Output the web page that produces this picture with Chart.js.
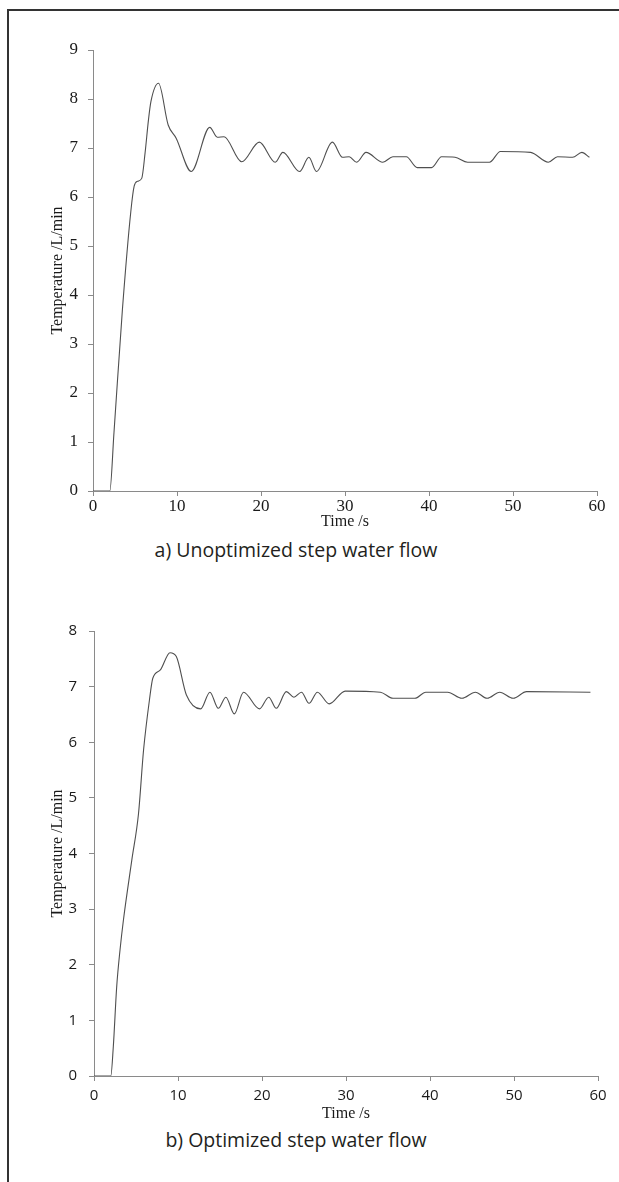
<!DOCTYPE html>
<html>
<head>
<meta charset="utf-8">
<script src="https://cdn.jsdelivr.net/npm/chart.js@4"></script>
<style>
  html,body{margin:0;padding:0;background:#fff;}
  body{width:619px;height:1182px;position:relative;overflow:hidden;}
  #frame{position:absolute;left:7px;top:9px;width:640px;height:1200px;border-left:2px solid #333;border-top:2px solid #333;}
  .cv{position:absolute;left:0;}
  .cap{position:absolute;left:0;width:592px;text-align:center;font-family:"Open Sans",sans-serif;font-size:19.5px;color:#231f20;}
</style>
</head>
<body>
<div id="frame"></div>
<div class="cv" style="top:0;width:619px;height:535px;"><canvas id="c1"></canvas></div>
<div class="cv" style="top:580px;width:619px;height:545px;"><canvas id="c2"></canvas></div>
<div class="cap" style="top:536px;">a) Unoptimized step water flow</div>
<div class="cap" style="top:1126px;">b) Optimized step water flow</div>
<script>
// ---- data ----
const xTicksA = [0, 10, 20, 30, 40, 50, 60];
const yTicksA = [0, 1, 2, 3, 4, 5, 6, 7, 8, 9];
const timeA = [0, 1, 2, 2.5, 3.5, 4.5, 4.9, 5.3, 5.8, 6.2, 6.6, 6.9, 7.8, 8.95, 9.9, 11.7, 13.9, 14.8, 15.6, 17.7, 19.8, 21.7, 22.6, 24.6, 25.7, 26.6, 28.5, 29.7, 30.5, 31.4, 32.5, 34.5, 35.7, 37.3, 38.6, 40.3, 41.5, 43.1, 44.6, 47.2, 48.5, 52.1, 54.2, 55.3, 57.1, 58.2, 59.1];
const flowA = [0, 0, 0, 1.2, 3.7, 5.7, 6.22, 6.32, 6.38, 6.9, 7.57, 7.95, 8.32, 7.47, 7.2, 6.52, 7.42, 7.22, 7.23, 6.72, 7.12, 6.71, 6.91, 6.52, 6.81, 6.52, 7.12, 6.81, 6.82, 6.71, 6.91, 6.71, 6.82, 6.82, 6.6, 6.6, 6.82, 6.81, 6.71, 6.71, 6.93, 6.91, 6.71, 6.82, 6.81, 6.91, 6.81];

const xTicksB = [0, 10, 20, 30, 40, 50, 60];
const yTicksB = [0, 1, 2, 3, 4, 5, 6, 7, 8];
const timeB = [0, 1, 2, 2.3, 2.7, 3.1, 3.5, 4.5, 5.3, 5.9, 6.6, 7.0, 7.9, 9.05, 9.8, 11.0, 12.7, 13.8, 14.8, 15.7, 16.7, 17.8, 19.7, 20.8, 21.7, 22.9, 23.8, 24.7, 25.6, 26.6, 28.0, 29.9, 34.1, 35.6, 38.2, 39.5, 42.1, 43.8, 45.4, 46.8, 48.3, 49.9, 51.5, 59.1];
const flowB = [0, 0, 0, 0.53, 1.6, 2.27, 2.8, 3.88, 4.72, 5.86, 6.76, 7.15, 7.3, 7.61, 7.54, 6.85, 6.6, 6.9, 6.61, 6.81, 6.51, 6.9, 6.6, 6.81, 6.61, 6.91, 6.81, 6.9, 6.7, 6.9, 6.69, 6.92, 6.9, 6.79, 6.79, 6.9, 6.9, 6.79, 6.9, 6.79, 6.9, 6.79, 6.91, 6.9];

const xTitle = 'Time /s';
const yTitle = 'Temperature /L/min';

const AXIS = '#8a8a8a';
const INK = '#1a1a1a';
const LINE = '#4f4f4f';
const SERIF = "'Liberation Serif', 'Times New Roman', serif";
const SANS = "'Open Sans', sans-serif";

function makeChart(id, times, flows, xT, yT, cfg) {
  const pts = times.map((t, i) => ({x: t, y: flows[i]}));
  return new Chart(document.getElementById(id), {
    type: 'line',
    data: { datasets: [{ data: pts, borderColor: LINE, borderWidth: 1.1, pointRadius: 0, fill: false, cubicInterpolationMode: 'monotone' }] },
    options: {
      responsive: true, maintainAspectRatio: false, animation: false,
      layout: { padding: { left: 0, top: cfg.top, right: cfg.right, bottom: 0 } },
      plugins: { legend: { display: false }, tooltip: { enabled: false } },
      scales: {
        x: {
          type: 'linear', min: 0, max: 60,
          afterBuildTicks: s => { s.ticks = xT.map(v => ({value: v})); },
          afterFit: s => { s.height = cfg.xh; },
          border: { display: true, color: AXIS, width: 1 },
          grid: { drawOnChartArea: false, drawTicks: true, tickLength: 5, color: AXIS },
          ticks: { color: INK, padding: cfg.xpad, maxRotation: 0, font: { family: cfg.tickFont, size: cfg.tickSize } },
          title: { display: true, text: xTitle, color: INK, padding: { top: 0, bottom: cfg.xtpb }, font: { family: SERIF, size: 16 } }
        },
        y: {
          type: 'linear', min: 0, max: yT[yT.length - 1],
          afterBuildTicks: s => { s.ticks = yT.map(v => ({value: v})); },
          afterFit: s => { s.width = cfg.yw; },
          border: { display: true, color: AXIS, width: 1 },
          grid: { drawOnChartArea: false, drawTicks: true, tickLength: 5, color: AXIS },
          ticks: { color: INK, padding: cfg.ypad, font: { family: cfg.tickFont, size: cfg.tickSize } },
          title: { display: true, text: yTitle, color: INK, padding: { top: 48, bottom: 0 }, font: { family: SERIF, size: 16 } }
        }
      }
    }
  });
}

makeChart('c1', timeA, flowA, xTicksA, yTicksA, { top: 50, right: 22, xh: 44, yw: 93, xpad: 0, xtpb: 4, ypad: 10, tickFont: SERIF, tickSize: 17 });
makeChart('c2', timeB, flowB, xTicksB, yTicksB, { top: 51, right: 21, xh: 49, yw: 94, xpad: 6, xtpb: 2, ypad: 12, tickFont: SANS, tickSize: 15 });
</script>
</body>
</html>
